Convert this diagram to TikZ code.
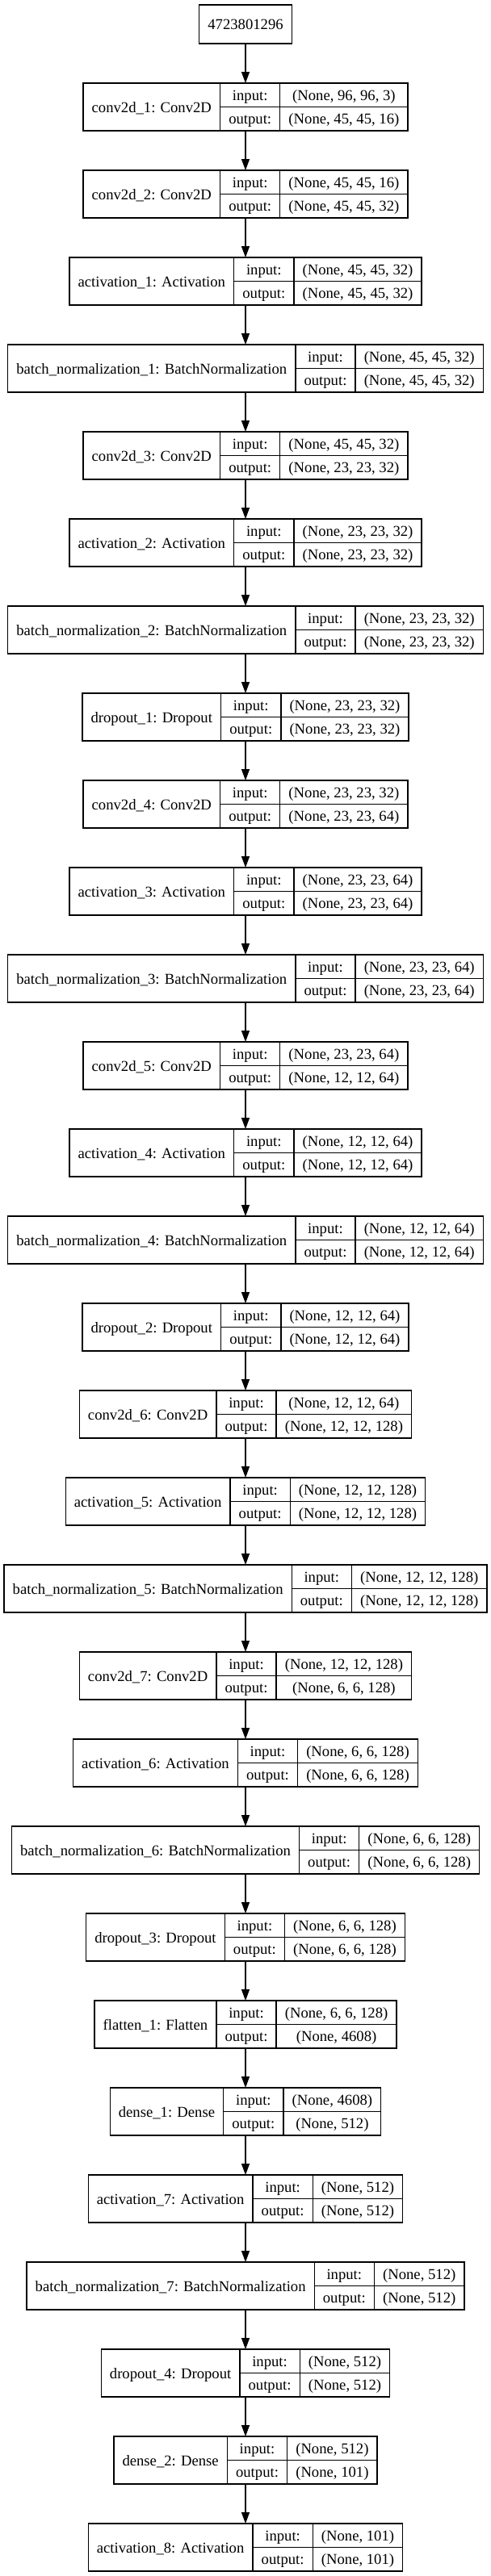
\documentclass[tikz,border=0pt]{standalone}
\usepackage{fontspec}
\setmainfont{Liberation Serif}
\usetikzlibrary{arrows.meta}
\newlength\fwa \newlength\fwb \newlength\fwc \newlength\fwdd
\newcommand\lfont{\fontsize{14pt}{16.8pt}\selectfont}
\tikzset{
  rec/.style={inner sep=0pt, outer sep=0pt, minimum height=44.25pt},
  fieldL/.style={draw=black, line width=1pt, inner sep=0pt, outer sep=0pt, minimum height=44.25pt, text height=12pt, text depth=2pt, font=\lfont},
  fieldR/.style={draw=black, line width=1pt, inner sep=0pt, outer sep=0pt, minimum height=22.125pt, text height=12pt, text depth=2pt, font=\lfont},
  inbox/.style={draw=black, line width=1pt, inner sep=0pt, outer sep=0pt, minimum height=36pt, text height=12pt, text depth=2pt, font=\lfont},
  arr/.style={line width=1pt, -{Triangle[length=10.5pt,width=7.5pt]}}
}
\newcommand\layerrec[5]{%
  \pgfinterruptpicture
  \settowidth\fwa{\lfont #2}\addtolength\fwa{16pt}\global\fwa=\fwa
  \settowidth\fwb{\lfont output:}\addtolength\fwb{16pt}\global\fwb=\fwb
  \settowidth\fwc{\lfont #3}\settowidth\fwdd{\lfont #4}%
  \ifdim\fwdd>\fwc \fwc=\fwdd\fi \addtolength\fwc{16pt}\global\fwc=\fwc
  \endpgfinterruptpicture
  \pgfmathsetlengthmacro\totw{\fwa+\fwb+\fwc}%
  \pgfmathsetlengthmacro\ytop{-77.25pt-(#5-1)*81pt}%
  \node[rec, minimum width=\totw, anchor=north] (#1) at (228pt,\ytop) {};
  \node[fieldL, minimum width=\fwa, anchor=north west] (#1-l) at (#1.north west) {#2};
  \node[fieldR, minimum width=\fwb, anchor=north west] (#1-ik) at (#1-l.north east) {input:};
  \node[fieldR, minimum width=\fwb, anchor=north west] (#1-ok) at (#1-ik.south west) {output:};
  \node[fieldR, minimum width=\fwc, anchor=north west] (#1-iv) at (#1-ik.north east) {#3};
  \node[fieldR, minimum width=\fwc, anchor=north west] (#1-ov) at (#1-iv.south west) {#4};
}
\begin{document}
\begin{tikzpicture}[x=1pt,y=1pt]
\useasboundingbox[fill=white] (0,0) rectangle (455.25,-2394);
\node[inbox, minimum width=54pt, inner xsep=8pt, anchor=north] (L0) at (228,-4.5) {4723801296};
\layerrec{L1}{conv2d\_1: Conv2D}{(None, 96, 96, 3)}{(None, 45, 45, 16)}{1}
\layerrec{L2}{conv2d\_2: Conv2D}{(None, 45, 45, 16)}{(None, 45, 45, 32)}{2}
\layerrec{L3}{activation\_1: Activation}{(None, 45, 45, 32)}{(None, 45, 45, 32)}{3}
\layerrec{L4}{batch\_normalization\_1: BatchNormalization}{(None, 45, 45, 32)}{(None, 45, 45, 32)}{4}
\layerrec{L5}{conv2d\_3: Conv2D}{(None, 45, 45, 32)}{(None, 23, 23, 32)}{5}
\layerrec{L6}{activation\_2: Activation}{(None, 23, 23, 32)}{(None, 23, 23, 32)}{6}
\layerrec{L7}{batch\_normalization\_2: BatchNormalization}{(None, 23, 23, 32)}{(None, 23, 23, 32)}{7}
\layerrec{L8}{dropout\_1: Dropout}{(None, 23, 23, 32)}{(None, 23, 23, 32)}{8}
\layerrec{L9}{conv2d\_4: Conv2D}{(None, 23, 23, 32)}{(None, 23, 23, 64)}{9}
\layerrec{L10}{activation\_3: Activation}{(None, 23, 23, 64)}{(None, 23, 23, 64)}{10}
\layerrec{L11}{batch\_normalization\_3: BatchNormalization}{(None, 23, 23, 64)}{(None, 23, 23, 64)}{11}
\layerrec{L12}{conv2d\_5: Conv2D}{(None, 23, 23, 64)}{(None, 12, 12, 64)}{12}
\layerrec{L13}{activation\_4: Activation}{(None, 12, 12, 64)}{(None, 12, 12, 64)}{13}
\layerrec{L14}{batch\_normalization\_4: BatchNormalization}{(None, 12, 12, 64)}{(None, 12, 12, 64)}{14}
\layerrec{L15}{dropout\_2: Dropout}{(None, 12, 12, 64)}{(None, 12, 12, 64)}{15}
\layerrec{L16}{conv2d\_6: Conv2D}{(None, 12, 12, 64)}{(None, 12, 12, 128)}{16}
\layerrec{L17}{activation\_5: Activation}{(None, 12, 12, 128)}{(None, 12, 12, 128)}{17}
\layerrec{L18}{batch\_normalization\_5: BatchNormalization}{(None, 12, 12, 128)}{(None, 12, 12, 128)}{18}
\layerrec{L19}{conv2d\_7: Conv2D}{(None, 12, 12, 128)}{(None, 6, 6, 128)}{19}
\layerrec{L20}{activation\_6: Activation}{(None, 6, 6, 128)}{(None, 6, 6, 128)}{20}
\layerrec{L21}{batch\_normalization\_6: BatchNormalization}{(None, 6, 6, 128)}{(None, 6, 6, 128)}{21}
\layerrec{L22}{dropout\_3: Dropout}{(None, 6, 6, 128)}{(None, 6, 6, 128)}{22}
\layerrec{L23}{flatten\_1: Flatten}{(None, 6, 6, 128)}{(None, 4608)}{23}
\layerrec{L24}{dense\_1: Dense}{(None, 4608)}{(None, 512)}{24}
\layerrec{L25}{activation\_7: Activation}{(None, 512)}{(None, 512)}{25}
\layerrec{L26}{batch\_normalization\_7: BatchNormalization}{(None, 512)}{(None, 512)}{26}
\layerrec{L27}{dropout\_4: Dropout}{(None, 512)}{(None, 512)}{27}
\layerrec{L28}{dense\_2: Dense}{(None, 512)}{(None, 101)}{28}
\layerrec{L29}{activation\_8: Activation}{(None, 101)}{(None, 101)}{29}
\foreach \i [evaluate=\i as \j using int(\i+1)] in {0,...,28}
  \draw[arr] (L\i.south) -- (L\j.north);
\end{tikzpicture}
\end{document}
